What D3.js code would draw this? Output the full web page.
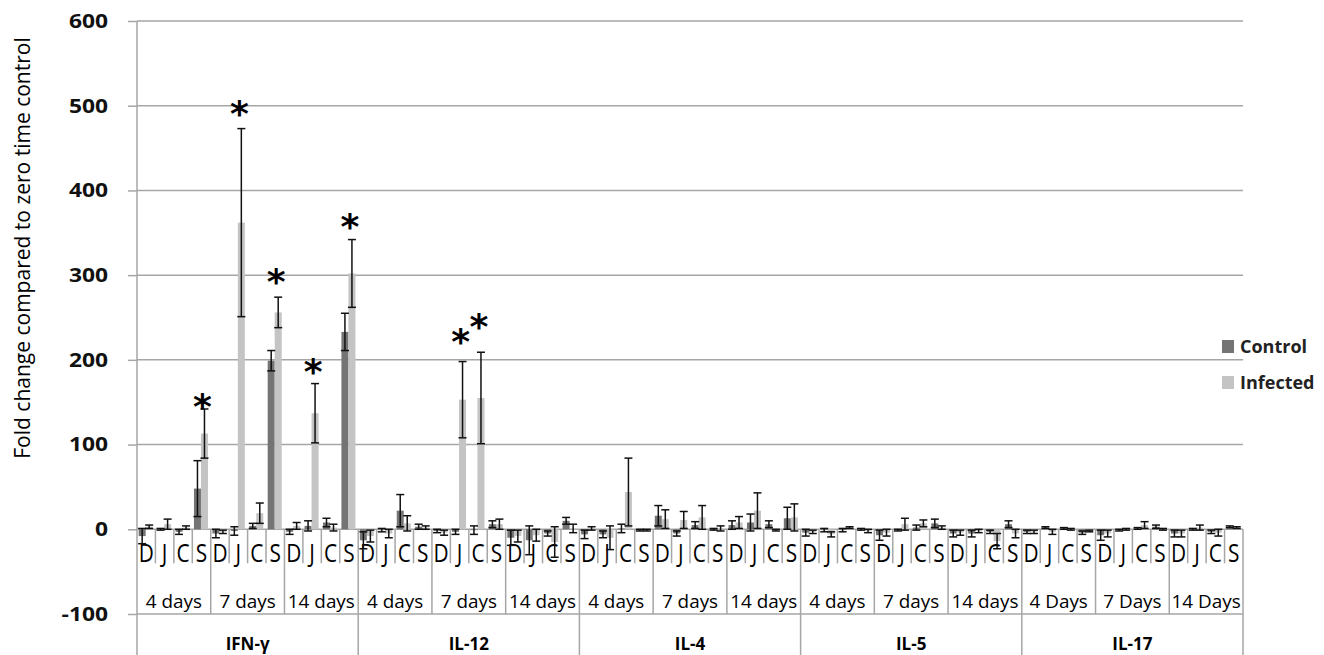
<!DOCTYPE html>
<html><head><meta charset="utf-8">
<script src="https://cdn.jsdelivr.net/npm/d3@7"></script>
<style>body{margin:0;background:#fff;} svg{display:block;}</style>
</head><body><svg id="c" width="1324" height="655"></svg>
<script>
// ---------- DATA ----------
const cytokines = ["IFN-γ", "IL-12", "IL-4", "IL-5", "IL-17"];
const timeLabels = [
  ["4 days", "7 days", "14 days"],
  ["4 days", "7 days", "14 days"],
  ["4 days", "7 days", "14 days"],
  ["4 days", "7 days", "14 days"],
  ["4 Days", "7 Days", "14 Days"]
];
const subLabels = ["D", "J", "C", "S"];
const seriesNames = ["Control", "Infected"];
const yTicks = [-100, 0, 100, 200, 300, 400, 500, 600];

// order: cytokine -> time -> D,J,C,S
const controlMean = [
  -8, 0, -3, 48,   -5, -2, 4, 199,   -3, 4, 8, 233,      // IFN-γ
  -13, -1, 22, 3,  -2, -3, -1, 6,    -10, -13, -5, 10,   // IL-12
  -6, -6, 1, -1,   16, -5, 5, 0,     5, 8, 6, 13,        // IL-4
  -4, -1, -1, 0,   -7, -1, 2, 7,     -5, -5, -3, 6,      // IL-5
  -3, 2, 1, -4,    -7, -1, 1, 3,     -5, 0, -3, 3        // IL-17
];
const controlErr = [
  9, 1, 3, 33,     5, 5, 3, 12,      3, 6, 5, 22,
  10, 2, 19, 3,    2, 3, 5, 4,       9, 17, 3, 4,
  5, 4, 5, 1,      12, 3, 4, 1,      5, 10, 4, 13,
  4, 2, 2, 1,      6, 1, 3, 5,       4, 4, 2, 4,
  2, 1, 1, 2,      6, 1, 1, 2,       4, 1, 2, 1
];
const infectedMean = [
  3, 6, 2, 113,    -3, 362, 19, 256,  4, 137, 2, 302,
  -8, -5, 7, 2,    -4, 153, 155, 6,   -8, -7, -15, 1,
  1, -10, 44, -1,  12, 11, 14, 1,     8, 22, -1, 14,
  -3, -6, 2, -2,   -4, 6, 7, 2,       -4, -2, -14, -5,
  -3, -3, 0, -2,   -5, 0, 5, 0,       -5, 2, -4, 2
];
const infectedErr = [
  2, 6, 2, 29,     2, 111, 12, 18,    4, 35, 4, 40,
  7, 5, 9, 2,      3, 45, 54, 6,      7, 7, 18, 5,
  2, 14, 40, 1,    11, 10, 14, 3,     7, 21, 1, 16,
  2, 3, 1, 2,      4, 7, 4, 2,        3, 2, 9, 5,
  2, 3, 1, 1,      4, 1, 4, 1,        4, 3, 4, 1
];
// significance asterisks: category index and value (data units) of the mark centre
const sigIndex = [3, 5, 7, 9, 11, 17, 18];
const sigValue = [153, 499, 300, 194, 365, 229, 247];

// ---------- CHART ----------
const svg = d3.select("#c");
const L = 137, R = 1243;
const y = d3.scaleLinear().domain([-100, 600]).range([614, 21]);
const ids = [];
cytokines.forEach((g, gi) => [0, 1, 2].forEach(t => subLabels.forEach(s => ids.push(`${gi}|${t}|${s}`))));
const x0 = d3.scaleBand().domain(ids).range([L, R]).padding(0);
const bw = x0.bandwidth();
const x1 = d3.scaleBand().domain(seriesNames).range([bw * 0.09, bw * 0.85]).padding(0);
const xg = d3.scaleBand().domain(cytokines).range([L, R]);
const gw = xg.bandwidth();
const colors = { Control: "#747474", Infected: "#c4c4c4" };
const gridCol = "#a6a6a6";
const FONT = "'Open Sans', 'DejaVu Sans', sans-serif";

// gridlines
svg.append("g").selectAll("line").data(yTicks).join("line")
  .attr("x1", L).attr("x2", R).attr("y1", d => y(d)).attr("y2", d => y(d))
  .attr("stroke", gridCol).attr("stroke-width", 1.5);

// y axis
const ax = svg.append("g").attr("transform", `translate(${L},0)`)
  .call(d3.axisLeft(y).tickValues(yTicks).tickSize(9).tickSizeOuter(0));
ax.select(".domain").remove();
ax.selectAll(".tick line").attr("stroke", gridCol).attr("stroke-width", 1.5);
ax.selectAll(".tick text").remove();
svg.append("line").attr("x1", L).attr("x2", L).attr("y1", y(600)).attr("y2", 655)
  .attr("stroke", gridCol).attr("stroke-width", 1.5);
svg.append("g").selectAll("text").data(yTicks).join("text")
  .attr("transform", d => `translate(108,${y(d)}) scale(1.2,1)`)
  .attr("text-anchor", "end").attr("dy", "0.36em")
  .attr("font-family", FONT).attr("font-size", 19).attr("font-weight", "bold").attr("fill", "#111")
  .text(d => d);

svg.append("text")
  .attr("transform", "translate(30,248) rotate(-90)")
  .attr("text-anchor", "middle").attr("font-family", FONT).attr("font-size", 21).attr("fill", "#000")
  .text("Fold change compared to zero time control");

// category table lines
const y0 = y(0);
const tbl = svg.append("g").attr("stroke", gridCol).attr("stroke-width", 1.5);
ids.forEach((id, i) => {
  if (i === 0) return;
  const x = x0(id);
  const bottom = (i % 12 === 0) ? 655 : (i % 4 === 0 ? y(-100) : y0 + 34);
  tbl.append("line").attr("x1", x).attr("x2", x).attr("y1", y0).attr("y2", bottom);
});
tbl.append("line").attr("x1", R).attr("x2", R).attr("y1", y0).attr("y2", 655);

// sub labels D J C S
svg.append("g").selectAll("text").data(ids).join("text")
  .attr("transform", d => `translate(${x0(d) + bw / 2},562) scale(0.8,1)`)
  .attr("text-anchor", "middle").attr("font-family", FONT).attr("font-size", 26)
  .attr("fill", "#000")
  .text(d => d.split("|")[2]);

// time labels
const timeG = svg.append("g");
cytokines.forEach((g, gi) => timeLabels[gi].forEach((t, ti) => {
  const cx = xg(g) + gw / 3 * (ti + 0.5);
  timeG.append("text").attr("transform", `translate(${cx},608) scale(1.05,1)`)
    .attr("text-anchor", "middle").attr("font-family", FONT).attr("font-size", 18)
    .attr("fill", "#000")
    .text(t);
}));

// cytokine labels
svg.append("g").selectAll("text").data(cytokines).join("text")
  .attr("x", d => xg(d) + gw / 2).attr("y", 650)
  .attr("text-anchor", "middle").attr("font-family", FONT).attr("font-size", 17)
  .attr("font-weight", "bold").attr("fill", "#000")
  .text(d => d);

// bars
const rows = [];
ids.forEach((id, i) => {
  rows.push({ id, s: "Control", v: controlMean[i], e: controlErr[i] });
  rows.push({ id, s: "Infected", v: infectedMean[i], e: infectedErr[i] });
});
svg.append("g").selectAll("rect").data(rows).join("rect")
  .attr("x", d => x0(d.id) + x1(d.s))
  .attr("width", x1.bandwidth())
  .attr("y", d => y(Math.max(0, d.v)))
  .attr("height", d => Math.abs(y(d.v) - y(0)))
  .attr("fill", d => colors[d.s]);

// error bars
const eg = svg.append("g").attr("stroke", "#111").attr("stroke-width", 1.5);
rows.forEach(d => {
  const cx = x0(d.id) + x1(d.s) + x1.bandwidth() / 2;
  const yt = y(d.v + d.e), yb = y(d.v - d.e);
  eg.append("line").attr("x1", cx).attr("x2", cx).attr("y1", yt).attr("y2", yb);
  eg.append("line").attr("x1", cx - 4).attr("x2", cx + 4).attr("y1", yt).attr("y2", yt);
  eg.append("line").attr("x1", cx - 4).attr("x2", cx + 4).attr("y1", yb).attr("y2", yb);
});

// asterisks
svg.append("g").selectAll("text").data(sigIndex).join("text")
  .attr("x", (d) => x0(ids[d]) + bw / 2 + 1)
  .attr("y", (d, i) => y(sigValue[i]) + 19)
  .attr("text-anchor", "middle").attr("font-family", "'DejaVu Sans', sans-serif")
  .attr("font-size", 36).attr("font-weight", "bold").attr("fill", "#000")
  .text("*");

// legend
const lg = svg.append("g");
seriesNames.forEach((s, i) => {
  const yy = 340 + i * 36;
  lg.append("rect").attr("x", 1222).attr("y", yy).attr("width", 12).attr("height", 13).attr("fill", colors[s]);
  lg.append("text").attr("x", 1240).attr("y", yy + 13).attr("font-family", FONT)
    .attr("font-size", 18).attr("font-weight", "bold").attr("fill", "#222").text(s);
});
</script>
</body></html>
